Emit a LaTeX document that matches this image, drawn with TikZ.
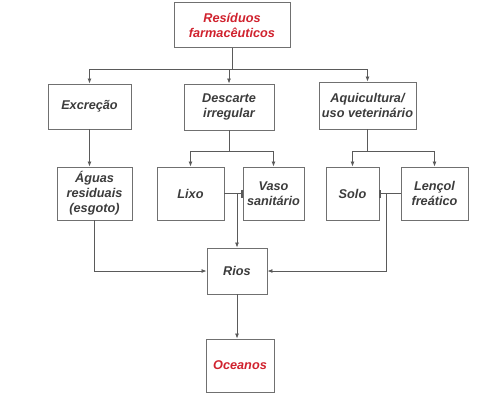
\documentclass[tikz,border=0pt]{standalone}
\usepackage{fontspec}
\setmainfont{Liberation Sans}
\usetikzlibrary{positioning,arrows.meta}
\definecolor{txtgray}{HTML}{3C3C3C}
\definecolor{boxgray}{HTML}{707070}
\definecolor{linegray}{HTML}{5A5A5A}
\definecolor{titred}{HTML}{D0222E}
\begin{document}
\begin{tikzpicture}[x=1pt,y=-1pt,
                b/.style={rectangle,draw=boxgray,line width=0.9pt,align=center,
                          text=txtgray,font=\fontsize{12.7}{15}\selectfont\bfseries\itshape,
                          inner sep=2pt},
                red/.style={b,text=titred},
                arr/.style={draw=linegray,line width=0.8pt,-{Latex[length=5pt,width=4pt]}},
                tee/.style={draw=linegray,line width=0.8pt,-{Bar[width=8pt,line width=1.2pt]}}]
                \useasboundingbox (0,0) rectangle (500,400);
                \node[red,minimum width=116pt,minimum height=45pt] (res) at (232,25){Resíduos\\farmacêuticos};
                \node[b,minimum width=83pt,minimum height=45pt] (exc) at (89.5,106.5){Excreção};
                \node[b,minimum width=90pt,minimum height=46pt] (desc) at (229,107){Descarte\\irregular};
                \node[b,minimum width=97pt,minimum height=47pt] (aqui) at (367.5,105.5){Aquicultura/\\uso veterinário};
                \node[b,minimum width=75pt,minimum height=53pt] (aguas) at (94.5,193.5){Águas\\residuais\\(esgoto)};
                \node[b,minimum width=67pt,minimum height=53pt] (lixo) at (190.5,193.5){Lixo};
                \node[b,minimum width=61pt,minimum height=53pt] (vaso) at (273.5,193.5){Vaso\\sanitário};
                \node[b,minimum width=53pt,minimum height=53pt] (solo) at (352.5,193.5){Solo};
                \node[b,minimum width=67pt,minimum height=53pt] (lencol) at (434.5,193.5){Lençol\\freático};
                \node[b,minimum width=60pt,minimum height=46pt] (rios) at (237,271){Rios};
                \node[red,minimum width=68pt,minimum height=53pt] (oce) at (240,365.5){Oceanos};
                % junctions
                \coordinate (lx) at (lixo.east -| rios.north);
                \coordinate (sl) at (386,193.5);
                \path[arr] (res.south) -- +(0,21.5) -| (exc.north);
                \path[arr] (res.south) -- +(0,21.5) -| (desc.north);
                \path[arr] (res.south) -- +(0,21.5) -| (aqui.north);
                \path[arr] (desc.south) -- +(0,21) -| (lixo.north);
                \path[arr] (desc.south) -- +(0,21) -| (vaso.north);
                \path[arr] (aqui.south) -- +(0,22) -| (solo.north);
                \path[arr] (aqui.south) -- +(0,22) -| (lencol.north);
                \path[arr] (exc.south) -- (exc.south |- aguas.north);
                \path[tee] (lixo.east) -- (vaso.west);
                \path[tee] (lencol.west) -- (solo.east);
                \path[arr] (lx) -- (rios.north);
                \path[arr] (sl) |- (rios.east);
                \path[arr] (aguas.south) |- (rios.west);
                \path[arr] (rios.south) -- (rios.south |- oce.north);
\end{tikzpicture}
\end{document}
